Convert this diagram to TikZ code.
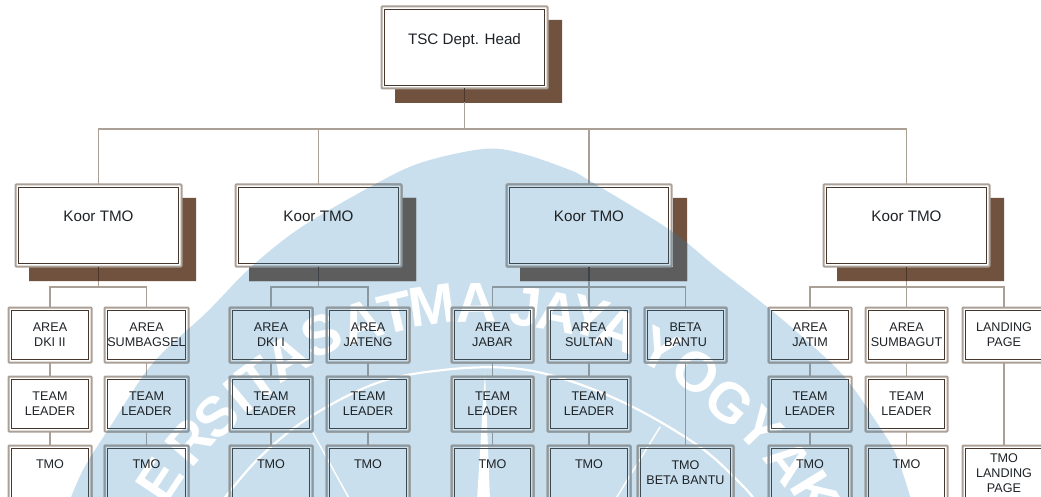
\documentclass[tikz,border=0pt]{standalone}
\usepackage{fontspec}
\setmainfont{Liberation Sans}
\newfontfamily\wmfont{Liberation Sans}[BoldFont={Liberation Sans Bold}]
\usetikzlibrary{calc}
\definecolor{shadowcol}{HTML}{70523F}
\definecolor{frameout}{HTML}{ABA096}
\definecolor{frameinner}{HTML}{46362C}
\definecolor{connover}{HTML}{4A382C}
\definecolor{wmblue}{HTML}{C9DFED}
\definecolor{inktext}{HTML}{1E2226}
\tikzset{
  orgbox/.style={draw=frameout,line width=2pt,inner sep=0pt,outer sep=0pt,align=center,rounded corners=0.8pt,text=inktext,font=\fontsize{12.6}{15}\selectfont},
  bigbox/.style={orgbox,font=\fontsize{15.2}{18}\selectfont},
  innerline/.style={draw=frameinner,line width=1pt},
  conn/.style={draw=frameout,line width=1.6pt},
  connshade/.style={draw=connover,line width=1.5pt},
  wmstroke/.style={draw=white,line width=2.2pt,line cap=round},
  wmletter/.style={text=white,inner sep=0pt,font=\wmfont\bfseries\fontsize{56}{56}\selectfont},
}
\newcommand{\domepath}{plot[smooth,tension=0.55] coordinates {(66,510) (83,470) (110,427) (153,363) (207,312) (250,268) (300,228) (370,187) (420,163) (483,149) (520,153) (570,170) (590,181) (670,230) (717,268) (777,315) (840,372) (875,420) (897,457) (914,510)} -- cycle}
\newcommand{\boxlabel}[1]{#1}
% name, x1, y1, x2, y2, style, text
\newcommand{\chartbox}[7]{%
  \pgfmathsetmacro{\bw}{#4-#2-1}\pgfmathsetmacro{\bh}{#5-#3-1}%
  \node[#6,minimum width=\bw pt,minimum height=\bh pt] (#1) at ({(#2+#4)/2},{(#3+#5)/2}) {\boxlabel{#7}};
  \draw[innerline] ([xshift=2.8pt,yshift=-2.8pt]#1.north west) rectangle ([xshift=-2.8pt,yshift=2.8pt]#1.south east);
}
\newcommand{\chartbody}{%
\foreach \sx/\sy in {395/20,29/198,249/198,520/198,837/198}{
  \fill[shadowcol] (\sx+153,\sy) -- (\sx+167,\sy) -- (\sx+167,\sy+83) -- (\sx,\sy+83) -- (\sx,\sy+69) -- (\sx+153,\sy+69) -- cycle;
}
\chartbox{head}{381}{6}{548}{89}{bigbox}{TSC Dept. Head\\~}
\chartbox{koora}{15}{184}{182}{267}{bigbox}{Koor TMO\\~}
\chartbox{koorb}{235}{184}{402}{267}{bigbox}{Koor TMO\\~}
\chartbox{koorc}{506}{184}{672}{267}{bigbox}{Koor TMO\\~}
\chartbox{koord}{823}{184}{990}{267}{bigbox}{Koor TMO\\~}
\chartbox{dkiii}{8}{307}{92}{363}{orgbox}{AREA\\DKI II}
\chartbox{sumsel}{104}{307}{189}{363}{orgbox}{AREA\\SUMBAGSEL}
\chartbox{dkii}{229}{307}{313}{363}{orgbox}{AREA\\DKI I}
\chartbox{jateng}{326}{307}{410}{363}{orgbox}{AREA\\JATENG}
\chartbox{jabar}{451}{307}{534}{363}{orgbox}{AREA\\JABAR}
\chartbox{sultan}{547}{307}{631}{363}{orgbox}{AREA\\SULTAN}
\chartbox{beta}{644}{307}{727}{363}{orgbox}{BETA\\BANTU}
\chartbox{jatim}{768}{307}{852}{363}{orgbox}{AREA\\JATIM}
\chartbox{sumut}{865}{307}{948}{363}{orgbox}{AREA\\SUMBAGUT}
\chartbox{landing}{962}{307}{1046}{363}{orgbox}{LANDING\\PAGE}
\chartbox{tla}{8}{376}{92}{432}{orgbox}{TEAM\\LEADER}
\chartbox{tlb}{104}{376}{189}{432}{orgbox}{TEAM\\LEADER}
\chartbox{tlc}{229}{376}{313}{432}{orgbox}{TEAM\\LEADER}
\chartbox{tld}{326}{376}{410}{432}{orgbox}{TEAM\\LEADER}
\chartbox{tle}{451}{376}{534}{432}{orgbox}{TEAM\\LEADER}
\chartbox{tlf}{547}{376}{631}{432}{orgbox}{TEAM\\LEADER}
\chartbox{tlg}{768}{376}{852}{432}{orgbox}{TEAM\\LEADER}
\chartbox{tlh}{865}{376}{948}{432}{orgbox}{TEAM\\LEADER}
\chartbox{tmoa}{8}{445}{92}{501}{orgbox}{TMO\\[3pt]~}
\chartbox{tmob}{104}{445}{189}{501}{orgbox}{TMO\\[3pt]~}
\chartbox{tmoc}{229}{445}{313}{501}{orgbox}{TMO\\[3pt]~}
\chartbox{tmod}{326}{445}{410}{501}{orgbox}{TMO\\[3pt]~}
\chartbox{tmoe}{451}{445}{534}{501}{orgbox}{TMO\\[3pt]~}
\chartbox{tmof}{547}{445}{631}{501}{orgbox}{TMO\\[3pt]~}
\chartbox{tmog}{637}{445}{734}{501}{orgbox}{TMO\\BETA BANTU}
\chartbox{tmoh}{768}{445}{852}{501}{orgbox}{TMO\\[3pt]~}
\chartbox{tmoi}{865}{445}{948}{501}{orgbox}{TMO\\[3pt]~}
\chartbox{tmoj}{962}{445}{1046}{501}{orgbox}{TMO\\LANDING\\PAGE}
\coordinate (bustop) at (464.5,129);
\coordinate (busa) at (98.5,287);
\coordinate (busb) at (318.5,287);
\coordinate (busc) at (589,287);
\coordinate (busd) at (906.5,287);
\draw[conn] (head.south) -- (bustop);
\draw[conn] (koora.north) |- (koord.north |- bustop) -- (koord.north);
\draw[conn] (koorb.north) -- (koorb.north |- bustop);
\draw[conn] (koorc.north) -- (koorc.north |- bustop);
\draw[conn] (koora.south) -- (busa);
\draw[conn] (dkiii.north) |- (sumsel.north |- busa) -- (sumsel.north);
\draw[conn] (koorb.south) -- (busb);
\draw[conn] (dkii.north) |- (jateng.north |- busb) -- (jateng.north);
\draw[conn] (koorc.south) -- (sultan.north);
\draw[conn] (jabar.north) |- (beta.north |- busc) -- (beta.north);
\draw[conn] (koord.south) -- (sumut.north);
\draw[conn] (jatim.north) |- (landing.north |- busd) -- (landing.north);
\foreach \lead in {head,koora,koorb,koorc,koord}{
  \draw[connshade] (\lead.south) -- ++(0,14);
}
\foreach \up/\lo in {dkiii/tla,tla/tmoa,sumsel/tlb,tlb/tmob,dkii/tlc,tlc/tmoc,jateng/tld,tld/tmod,jabar/tle,tle/tmoe,sultan/tlf,tlf/tmof,beta/tmog,jatim/tlg,tlg/tmoh,sumut/tlh,tlh/tmoi,landing/tmoj}{
  \draw[conn] (\up.south) -- (\lo.north);
}
}
\begin{document}
\begin{tikzpicture}[x=1pt,y=-1pt]
\useasboundingbox (0,0) rectangle (1041,497);
\clip (0,0) rectangle (1041,497);
% watermark beneath the unfilled chart
\fill[wmblue] \domepath;
\foreach \ch/\lx/\ly [count=\li] in {E/160/480,R/190/442,S/217/417,I/238/397,T/258/380,A/287/358,S/322/335,A/362/322,T/396/313,M/432/305,A/476/303,J/526/307,A/558/312,Y/590/317,A/619/330,Y/660/350,O/696/372,G/730/403,Y/760/430,A/789/462,K/815/494}{
  \pgfmathsetmacro{\lrot}{atan((485-\lx)/(696-\ly))}
  \node[wmletter,rotate=\lrot] (wm\li) at (\lx,\ly) {\ch};
}
\draw[wmstroke] plot[smooth,tension=0.6] coordinates {(223,500) (260,457) (310,417) (377,383) (443,370) (510,368) (567,380) (633,407) (700,447) (740,483) (755,500)};
\draw[wmstroke,line width=1.4pt] (313,433) -- (350,500);
\draw[wmstroke,line width=1.4pt] (660,427) -- (615,500);
\fill[white] (485,372) -- (477,500) -- (490,500) -- cycle;
% chart in its own colours
\chartbody
% the part of the chart tinted by the watermark
\begin{scope}
  \clip \domepath;
  \renewcommand{\boxlabel}[1]{}
  \definecolor{shadowcol}{HTML}{5E5D5D}
  \definecolor{frameout}{HTML}{8C989F}
  \definecolor{frameinner}{HTML}{3E484F}
  \definecolor{connover}{HTML}{3C4248}
  \chartbody
\end{scope}
\end{tikzpicture}
\end{document}
